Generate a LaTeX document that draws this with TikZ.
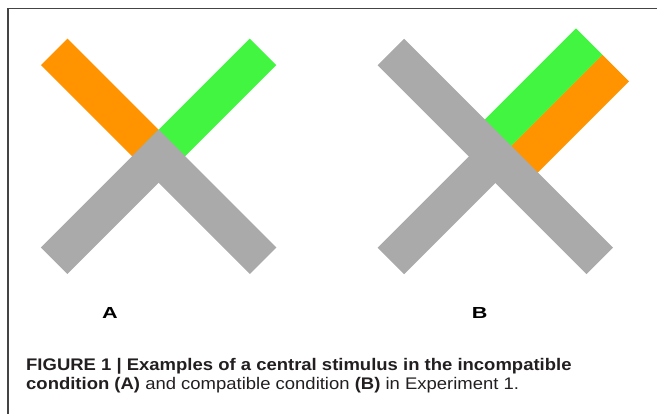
\documentclass[tikz,border=0pt]{standalone}
\usepackage{fontspec}
\setmainfont{Liberation Sans}
\newfontfamily\capfont[FakeStretch=1.1]{Liberation Sans}
\newfontfamily\panelfont[FakeStretch=1.35]{Liberation Sans}
\definecolor{barorange}{HTML}{FF9400}
\definecolor{bargreen}{HTML}{41F541}
\definecolor{bargray}{HTML}{AAAAAA}
\definecolor{captext}{HTML}{231F20}
\definecolor{framegray}{HTML}{444444}
\tikzset{
  panellabel/.style={anchor=base, inner sep=0pt, text=black,
       font=\panelfont\bfseries\fontsize{16}{19}\selectfont},
  captionline/.style={anchor=base west, inner sep=0pt, text=captext,
       font=\capfont\fontsize{16.8}{19.5}\selectfont},
  framerule/.style={draw=framegray, line width=1.5pt}
}
\begin{document}
\begin{tikzpicture}[x=1pt, y=-1pt]
\useasboundingbox (0,0) rectangle (657,414);

\draw[framerule] (8,414) -- (8,8.5) -- (657,8.5);

\begin{scope}[shift={(158.6,156.3)}, rotate=-45]
\fill[barorange] (-147.7,-18.75) rectangle (0,18.75);
\end{scope}
\begin{scope}[shift={(158.6,156.3)}, rotate=45]
\fill[bargreen] (0,-18.75) rectangle (147.7,18.75);
\fill[bargray] (-147.7,-18.75) rectangle (18.75,18.75);
\end{scope}
\begin{scope}[shift={(158.6,156.3)}, rotate=-45]
\fill[bargray] (-18.75,-18.75) rectangle (147.7,18.75);
\end{scope}

\begin{scope}[shift={(495.3,156.5)}, rotate=45]
\fill[bargray] (-147.7,-18.75) rectangle (0,18.75);
\fill[bargreen] (0,-33.5) rectangle (147.7,4);
\fill[barorange] (0,4) rectangle (147.7,41.5);
\end{scope}
\begin{scope}[shift={(495.3,156.5)}, rotate=-45]
\fill[bargray] (-147.7,-18.75) rectangle (147.7,18.75);
\end{scope}

\node[panellabel] (labelA) at (110,319) {A};
\node[panellabel] (labelB) at (479.7,319) {B};

\node[captionline] (caption1) at (26,370.7)
  {\bfseries FIGURE 1 | Examples of a central stimulus in the incompatible};
\node[captionline] (caption2) at (26,390)
  {\textbf{condition (A)} and compatible condition \textbf{(B)} in Experiment 1.};
\end{tikzpicture}
\end{document}
